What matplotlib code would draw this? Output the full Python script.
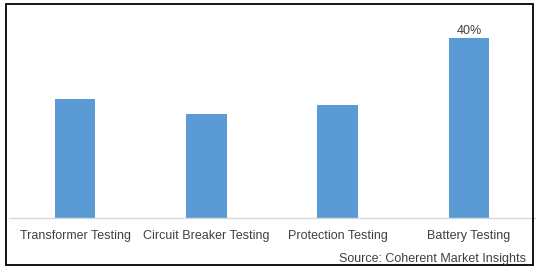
import matplotlib.pyplot as plt
from matplotlib.patches import Rectangle

categories = ["Transformer Testing", "Circuit Breaker Testing", "Protection Testing", "Battery Testing"]
shares = [26.5, 23.2, 25.2, 40.0]
labels = ["", "", "", "40%"]

W, H = 538, 272
fig = plt.figure(figsize=(W / 100, H / 100), dpi=100)
plt.rcParams["font.family"] = ["Liberation Sans", "DejaVu Sans"]

# axes: x from 9.4 to 534.6 px, baseline at y=218 px
x0, x1 = 9.4, 534.6
y_base, y_top = 218, 8
ax = fig.add_axes([x0 / W, 1 - y_base / H, (x1 - x0) / W, (y_base - y_top) / H])

xs = range(len(categories))
bars = ax.bar(xs, shares, width=0.31, color="#5B9BD5")
for b, lab in zip(bars, labels):
    if lab:
        ax.text(b.get_x() + b.get_width() / 2, b.get_height() + 0.3, lab,
                ha="center", va="bottom", fontsize=9, color="#404040")

ax.set_xlim(-0.5, len(categories) - 0.5)
ax.set_ylim(0, 40 * (y_base - y_top) / 180)
ax.set_yticks([])
ax.set_xticks(list(xs))
ax.set_xticklabels(categories, fontsize=9, color="#404040")
ax.tick_params(axis="x", length=0, pad=9)
for s in ["top", "right", "left"]:
    ax.spines[s].set_visible(False)
ax.spines["bottom"].set_color("#D9D9D9")
ax.spines["bottom"].set_linewidth(1)

fig.text(526 / W, 1 - 259 / H, "Source: Coherent Market Insights",
         ha="right", va="center", fontsize=9, color="#404040")

# outer frame
fig.patches.append(Rectangle((6 / W, 1 - 265 / H), 527 / W, 261 / H,
                             transform=fig.transFigure, fill=False,
                             edgecolor="black", linewidth=1.3))

fig.savefig("out.png", dpi=100)
